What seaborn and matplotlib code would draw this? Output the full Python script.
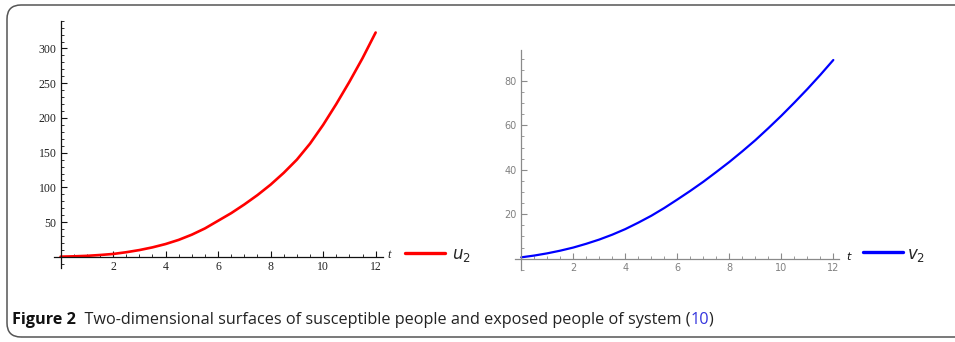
import numpy as np
import pandas as pd
import seaborn as sns
import matplotlib.pyplot as plt
from matplotlib.patches import FancyBboxPatch
from matplotlib.ticker import MultipleLocator

# values (every half unit of t)
t = [0, 0.5, 1, 1.5, 2, 2.5, 3, 3.5, 4, 4.5, 5, 5.5, 6, 6.5, 7, 7.5, 8, 8.5,
     9, 9.5, 10, 10.5, 11, 11.5, 12]
u2 = [0.3, 0.8, 1.5, 2.7, 4.2, 6.7, 9.8, 13.7, 18.5, 24.5, 32, 41, 52, 63, 75.5, 89,
      104, 121, 140, 163, 190, 220, 252, 286, 323]
v2 = [0.6, 1.4, 2.4, 3.6, 5.0, 6.7, 8.6, 10.8, 13.3, 16.2, 19.3, 22.8, 26.6, 30.5,
      34.6, 39, 43.5, 48.3, 53.3, 58.7, 64.3, 70.2, 76.3, 82.7, 89.4]
left_yticks = [50, 100, 150, 200, 250, 300]
right_yticks = [20, 40, 60, 80]
xticks = [2, 4, 6, 8, 10, 12]

df = pd.DataFrame({'t': t, 'u2': u2, 'v2': v2})

sns.set_theme(style='white')
plt.rcParams['mathtext.fontset'] = 'dejavusans'

W, H = 955, 342
fig = plt.figure(figsize=(W / 100, H / 100), dpi=100)

def box(x0, y0, x1, y1):
    # pixel box -> figure fraction rect
    return [x0 / W, 1 - y1 / H, (x1 - x0) / W, (y1 - y0) / H]

def axis_style(ax, col, lab_col, family, fs):
    for s in ['top', 'right']:
        ax.spines[s].set_visible(False)
    ax.spines['left'].set_position(('data', 0))
    ax.spines['bottom'].set_position(('data', 0))
    for s in ['left', 'bottom']:
        ax.spines[s].set_color(col)
        ax.spines[s].set_linewidth(0.9)
    ax.tick_params(which='major', direction='in', length=4, width=0.8, color=col,
                   labelsize=fs, labelcolor=lab_col, pad=3)
    ax.tick_params(which='minor', direction='in', length=2, width=0.6, color=col)
    ax.tick_params(left=True, bottom=True)
    ax.tick_params(which='minor', left=True, bottom=True)
    for lab in ax.get_xticklabels() + ax.get_yticklabels():
        lab.set_family(family)
    ax.set_xlabel('')
    ax.set_ylabel('')
    ax.set_facecolor('none')

# left panel: u2
ax1 = fig.add_axes(box(54, 20.7, 383, 268))
sns.lineplot(data=df, x='t', y='u2', ax=ax1, color='#ff0000', linewidth=1.9)
ax1.set_xlim(-0.25, 12.28)
ax1.set_ylim(-16, 340)
ax1.set_xticks(xticks)
ax1.set_yticks(left_yticks)
ax1.xaxis.set_minor_locator(MultipleLocator(0.5))
ax1.yaxis.set_minor_locator(MultipleLocator(10))
axis_style(ax1, '#111111', '#222222', 'Liberation Serif', 8.5)

# right panel: v2
ax2 = fig.add_axes(box(515, 50, 839.3, 270))
sns.lineplot(data=df, x='t', y='v2', ax=ax2, color='#0000ff', linewidth=1.6)
ax2.set_xlim(-0.24, 12.23)
ax2.set_ylim(-5.1, 93.9)
ax2.set_xticks(xticks)
ax2.set_yticks(right_yticks)
ax2.xaxis.set_minor_locator(MultipleLocator(0.5))
ax2.yaxis.set_minor_locator(MultipleLocator(5))
axis_style(ax2, '#8a8a8a', '#808080', 'DejaVu Sans', 7)

# axis name "t" and legend-like keys
fig.text(387 / W, 1 - 255 / H, 't', fontsize=9, style='italic', family='Liberation Serif',
         color='#222222', va='center')
fig.add_artist(plt.Line2D([405 / W, 445 / W], [1 - 253 / H] * 2, color='#ff0000', lw=2.4))
fig.text(452 / W, 1 - 255 / H, r'$u_2$', fontsize=12, va='center')

fig.text(846 / W, 1 - 257 / H, 't', fontsize=8, style='italic', color='#111111', va='center')
fig.add_artist(plt.Line2D([863 / W, 903 / W], [1 - 252 / H] * 2, color='#0000ff', lw=2.4))
fig.text(907 / W, 1 - 255 / H, r'$v_2$', fontsize=12, va='center')

# rounded frame (right side runs off the picture)
frame = FancyBboxPatch((0.07, 0.05), 10.0, 3.32, boxstyle='round,pad=0,rounding_size=0.14',
                       transform=fig.dpi_scale_trans, fill=False, edgecolor='#555555', lw=1.1)
fig.add_artist(frame)

# caption in pieces: bold label, text, blue reference
cap_y = 1 - 320 / H
fig.canvas.draw()
r = fig.canvas.get_renderer()
x = 12 / W
pieces = [('Figure 2', 'bold', '#111111'),
          ('  Two-dimensional surfaces of susceptible people and exposed people of system (', 'normal', '#222222'),
          ('10', 'normal', '#3333dd'),
          (')', 'normal', '#222222')]
for txt, wt, col in pieces:
    tt = fig.text(x, cap_y, txt, fontsize=11.7, weight=wt, color=col, family='Open Sans',
                  va='center')
    x += tt.get_window_extent(renderer=r).width / W

fig.savefig('out.png', dpi=100, facecolor='white')
